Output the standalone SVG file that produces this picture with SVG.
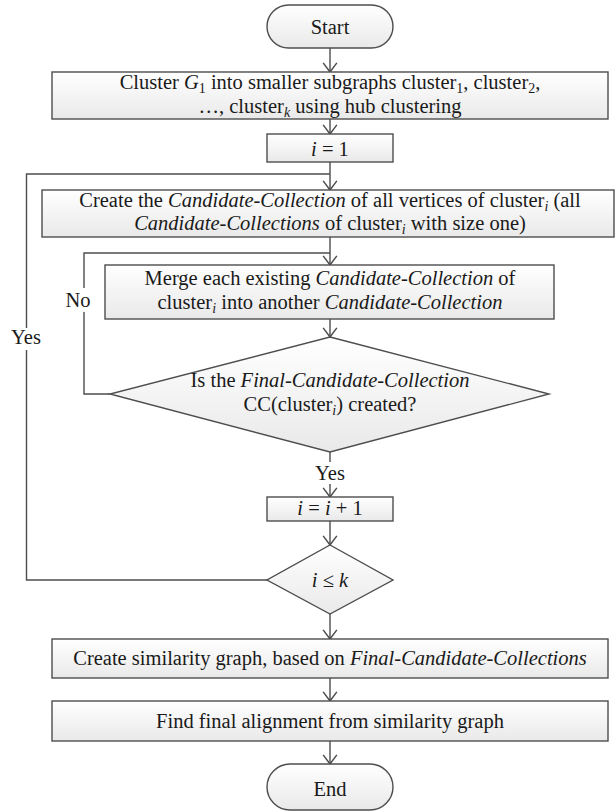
<svg xmlns="http://www.w3.org/2000/svg" width="616" height="812" viewBox="0 0 616 812">
<defs>
<linearGradient id="fillg" x1="0" y1="0" x2="0" y2="1">
<stop offset="0" stop-color="#ffffff"/>
<stop offset="1" stop-color="#e9e9e9"/>
</linearGradient>
<marker id="arr" markerUnits="userSpaceOnUse" markerWidth="12" markerHeight="16" viewBox="0 0 10 14" refX="9" refY="7" orient="auto">
<path d="M1,1 L9,7 L1,13" fill="none" stroke="#4d4d4d" stroke-width="1.3"/>
</marker>
</defs>
<style>
.box{fill:url(#fillg);stroke:#4d4d4d;stroke-width:1.4}
.ln{fill:none;stroke:#4d4d4d;stroke-width:1.4}
.t{font-family:"Liberation Serif","Times New Roman",serif;font-size:20.5px;fill:#1a1a1a;text-anchor:middle}
.it{font-style:italic}
.sub{font-size:14px}
.bg{fill:#ffffff}
</style>
<rect width="616" height="812" fill="#ffffff"/>
<g id="connectors">
<path class="ln" d="M330,48 V72" marker-end="url(#arr)"/>
<path class="ln" d="M330,119 V134" marker-end="url(#arr)"/>
<path class="ln" d="M330,162 V190" marker-end="url(#arr)"/>
<path class="ln" d="M267,580 H26.5 V174 H330"/>
<path class="ln" d="M330,237 V265" marker-end="url(#arr)"/>
<path class="ln" d="M110,394 H84 V253 H330"/>
<path class="ln" d="M330,319 V337" marker-end="url(#arr)"/>
<path class="ln" d="M330,452 V497" marker-end="url(#arr)"/>
<path class="ln" d="M330,521 V545" marker-end="url(#arr)"/>
<path class="ln" d="M330,614 V639" marker-end="url(#arr)"/>
<path class="ln" d="M330,678 V701" marker-end="url(#arr)"/>
<path class="ln" d="M330,741 V764" marker-end="url(#arr)"/>
<g id="label-no">
<rect class="bg" x="64" y="288" width="28" height="24"/>
<text class="t" x="78" y="307">No</text>
</g>
<g id="label-yes-loop">
<rect class="bg" x="9" y="328" width="36" height="22"/>
<text class="t" x="26" y="344">Yes</text>
</g>
<g id="label-yes-down">
<rect class="bg" x="312" y="462" width="36" height="22"/>
<text class="t" x="330" y="480">Yes</text>
</g>
</g>
<g id="start">
<rect class="box" x="267" y="5" width="126" height="43" rx="21.5" ry="21.5"/>
<text class="t" x="330" y="34">Start</text>
</g>
<g id="cluster">
<rect class="box" x="52" y="72" width="556" height="47"/>
<text class="t" x="330" y="89">Cluster <tspan class="it">G</tspan><tspan class="sub" dy="4">1</tspan><tspan dy="-4">  into smaller subgraphs cluster</tspan><tspan class="sub" dy="4">1</tspan><tspan dy="-4">, cluster</tspan><tspan class="sub" dy="4">2</tspan><tspan dy="-4">,</tspan></text>
<text class="t" x="330" y="113">…, cluster<tspan class="sub it" dy="4">k</tspan><tspan dy="-4"> using hub clustering</tspan></text>
</g>
<g id="init">
<rect class="box" x="267" y="134" width="126" height="28"/>
<text class="t" x="330" y="156"><tspan class="it">i</tspan> = 1</text>
</g>
<g id="create">
<rect class="box" x="42" y="190" width="572" height="47"/>
<text class="t" x="330" y="207">Create the <tspan class="it">Candidate-Collection</tspan> of all vertices of cluster<tspan class="sub it" dy="4">i</tspan><tspan dy="-4"> (all</tspan></text>
<text class="t" x="330" y="230"><tspan class="it">Candidate-Collections</tspan> of cluster<tspan class="sub it" dy="4">i</tspan><tspan dy="-4"> with size one)</tspan></text>
</g>
<g id="merge">
<rect class="box" x="105" y="265" width="449" height="54"/>
<text class="t" x="330" y="285">Merge each existing <tspan class="it">Candidate-Collection</tspan> of</text>
<text class="t" x="330" y="309">cluster<tspan class="sub it" dy="4">i</tspan><tspan dy="-4"> into another </tspan><tspan class="it">Candidate-Collection</tspan></text>
</g>
<g id="decision-final">
<polygon class="box" points="330,337 549,394 330,452 110,394"/>
<text class="t" x="330" y="387">Is the <tspan class="it">Final-Candidate-Collection</tspan></text>
<text class="t" x="330" y="411">CC(cluster<tspan class="sub it" dy="4">i</tspan><tspan dy="-4">) created?</tspan></text>
</g>
<g id="increment">
<rect class="box" x="267" y="497" width="126" height="24"/>
<text class="t" x="330" y="515"><tspan class="it">i</tspan> = <tspan class="it">i</tspan> + 1</text>
</g>
<g id="decision-k">
<polygon class="box" points="330,545 393,580 330,614 267,580"/>
<text class="t" x="330" y="587"><tspan class="it">i</tspan> ≤ <tspan class="it">k</tspan></text>
</g>
<g id="similarity">
<rect class="box" x="52" y="639" width="556" height="39"/>
<text class="t" x="330" y="665">Create similarity graph, based on <tspan class="it">Final-Candidate-Collections</tspan></text>
</g>
<g id="alignment">
<rect class="box" x="52" y="701" width="556" height="40"/>
<text class="t" x="330" y="728">Find final alignment from similarity graph</text>
</g>
<g id="end">
<rect class="box" x="267" y="764" width="126" height="46" rx="23" ry="23"/>
<text class="t" x="330" y="796">End</text>
</g>
</svg>
